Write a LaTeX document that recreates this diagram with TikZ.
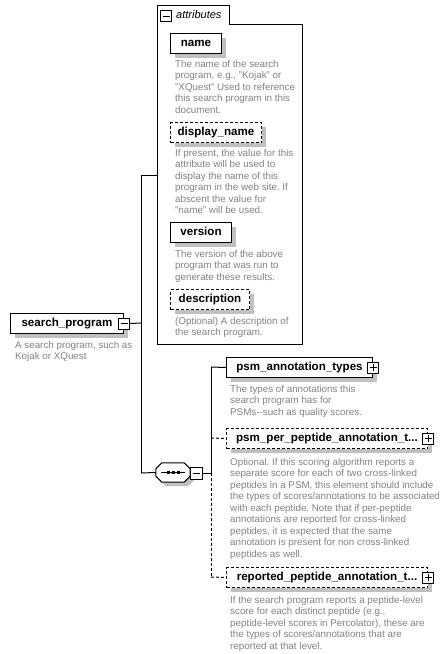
\documentclass[tikz,border=0pt]{standalone}
\usepackage{fontspec}
\setmainfont{Liberation Sans}
\usetikzlibrary{shadows}
\definecolor{descgray}{RGB}{130,130,130}
\definecolor{shadowgray}{RGB}{192,192,192}
\newcommand{\dtext}[1]{\parbox[t]{230pt}{\fontsize{9.8pt}{11.5pt}\selectfont\frenchspacing\raggedright #1}}
\begin{document}
\begin{tikzpicture}[x=1pt,y=-1pt,
 elem/.style={draw, fill=white, line width=1pt, font=\fontsize{11.6pt}{13pt}\selectfont\bfseries,
   minimum height=20pt, inner sep=0pt, text height=8.4pt, text depth=2.4pt, anchor=north west,
   general shadow={fill=shadowgray, shadow xshift=4pt, shadow yshift=-4pt}},
 optelem/.style={elem, dash pattern=on 3pt off 2pt},
 desc/.style={anchor=base west, inner sep=0pt, text=descgray},
 signbox/.style={draw, fill=white, line width=1pt, minimum size=11pt, inner sep=0pt},
 minusbox/.style={signbox, path picture={\draw[line width=1pt] ([xshift=-3.5pt]path picture bounding box.center) -- ([xshift=3.5pt]path picture bounding box.center);}},
 plusbox/.style={signbox, path picture={\draw[line width=1pt] ([xshift=-3.5pt]path picture bounding box.center) -- ([xshift=3.5pt]path picture bounding box.center);
   \draw[line width=1pt] ([yshift=-3.5pt]path picture bounding box.center) -- ([yshift=3.5pt]path picture bounding box.center);}},
 conn/.style={line width=1pt},
 optconn/.style={conn, dash pattern=on 3pt off 2pt}
]
\useasboundingbox[fill=white] (0,0) rectangle (441,654);

% attributes group
\draw[line width=1pt] (157,5) -- (229,5) -- (229,24) -- (302,24) -- (302,344) -- (157,344) -- cycle;
\node[minusbox] (attrm) at (166,16) {};
\node[anchor=west, inner sep=0pt, font=\fontsize{11pt}{13pt}\selectfont\itshape] (attrlbl) at (176,15) {attributes};

\node[elem, minimum width=51pt] (name) at (170,33) {name};
\node[desc] (named) at (175,67) {\dtext{The name of the search\\program, e.g., "Kojak" or\\"XQuest" Used to reference\\this search program in this\\document.}};

\node[optelem, minimum width=91pt] (dname) at (170,122) {display\_name};
\node[desc] (dnamed) at (175,156) {\dtext{If present, the value for this\\attribute will be used to\\display the name of this\\program in the web site. If\\abscent the value for\\"name" will be used.}};

\node[elem, minimum width=61pt] (version) at (170,222) {version};
\node[desc] (versiond) at (175,257) {\dtext{The version of the above\\program that was run to\\generate these results.}};

\node[optelem, minimum width=79pt] (descr) at (170,289) {description};
\node[desc] (descrd) at (175,324) {\dtext{(Optional) A description of\\the search program.}};

% root element
\node[elem, minimum width=113pt] (sp) at (10,313) {search\_program};
\node[minusbox] (spm) at (sp.east) {};
\node[desc] (spd) at (15,348) {\dtext{A search program, such as\\Kojak or XQuest}};

% sequence compositor
\node[minimum width=34pt, minimum height=19pt, inner sep=0pt] (seq) at (173,472.5) {};
\filldraw[fill=white, line width=1pt, general shadow={fill=shadowgray, shadow xshift=4pt, shadow yshift=-4pt}]
  ([xshift=6pt]seq.north west) -- ([xshift=-6pt]seq.north east) -- ([yshift=-6pt]seq.north east)
  -- ([yshift=6pt]seq.south east) -- ([xshift=-6pt]seq.south east) -- ([xshift=6pt]seq.south west)
  -- ([yshift=6pt]seq.south west) -- ([yshift=-6pt]seq.north west) -- cycle;
\draw[line width=1pt] ([xshift=-12pt]seq.center) -- ([xshift=12pt]seq.center);
\foreach \dx in {-5,0,5} \fill ([xshift=\dx pt]seq.center) +(-1.5,-1.5) rectangle +(1.5,1.5);
\node[minusbox, minimum size=12pt] (seqm) at (196,473) {};

% child elements
\node[elem, minimum width=146pt] (pat) at (226,357) {psm\_annotation\_types};
\node[plusbox] (patp) at (pat.east) {};
\node[desc] (patd) at (230,392) {\dtext{The types of annotations this\\search program has for\\PSMs-{}-such as quality scores.}};

\node[optelem, minimum width=201pt] (ppa) at (226,428) {psm\_per\_peptide\_annotation\_t...};
\node[plusbox] (ppap) at (ppa.east) {};
\node[desc] (ppad) at (230,465) {\dtext{Optional. If this scoring algorithm reports a\\separate score for each of two cross-linked\\peptides in a PSM, this element should include\\the types of scores/annotations to be associated\\with each peptide. Note that if per-peptide\\annotations are reported for cross-linked\\peptides, it is expected that the same\\annotation is present for non cross-linked\\peptides as well.}};

\node[optelem, minimum width=201pt] (rpa) at (226,567) {reported\_peptide\_annotation\_t...};
\node[plusbox] (rpap) at (rpa.east) {};
\node[desc] (rpad) at (230,603) {\dtext{If the search program reports a peptide-level\\score for each distinct peptide (e.g.,\\peptide-level scores in Percolator), these are\\the types of scores/annotations that are\\reported at that level.}};

% connectors
\coordinate (j1) at (141,323);
\coordinate (jtop) at (141,175);
\coordinate (jbot) at (141,473);
\coordinate (attrin) at (157,175);
\coordinate (k0) at (211,473);
\coordinate (k1) at (211,367);
\coordinate (k2) at (211,438);
\coordinate (k3) at (211,577);
\draw[conn] (spm.east) -- (j1);
\draw[conn] (jtop) -- (jbot);
\draw[conn] (jtop) -- (attrin);
\draw[conn] (jbot) -- (seq.west);
\draw[conn] (seqm.east) -- (k0);
\draw[conn] (k1) -- (k0);
\draw[optconn] (k0) -- (k3);
\draw[conn] (k1) -- (pat.west);
\draw[optconn] (k2) -- (ppa.west);
\draw[optconn] (k3) -- (rpa.west);
\end{tikzpicture}
\end{document}
